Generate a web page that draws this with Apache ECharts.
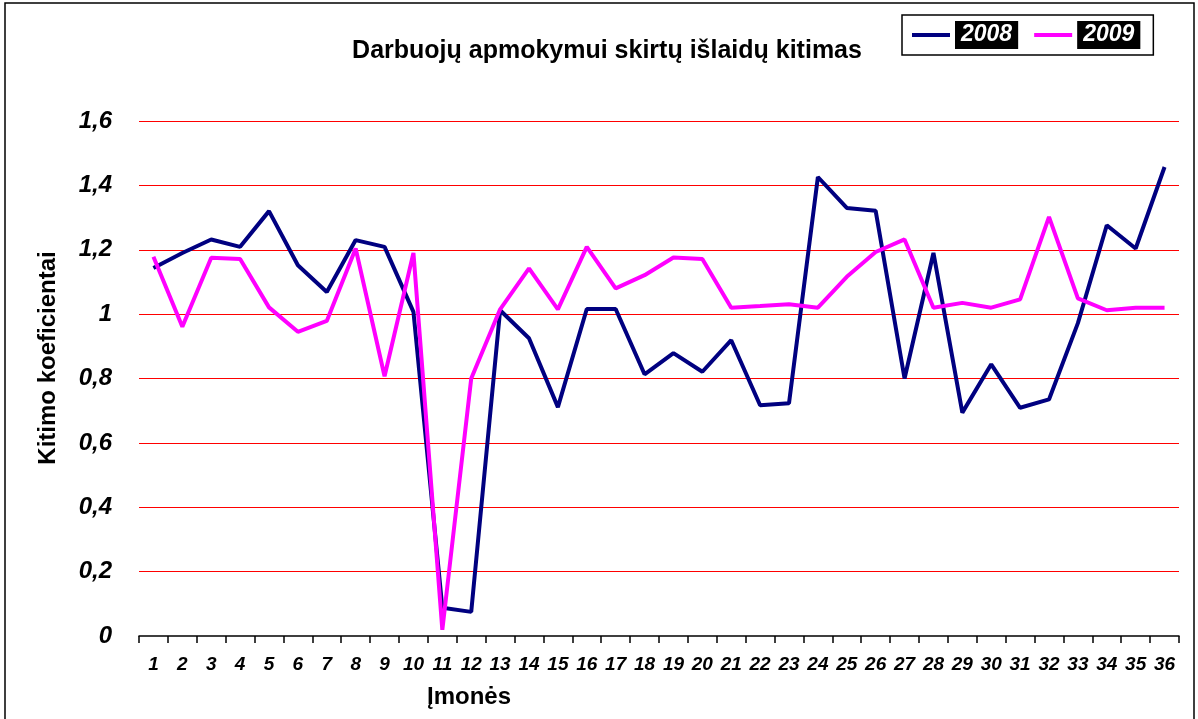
<!DOCTYPE html>
<html>
<head>
<meta charset="utf-8">
<script src="https://cdn.jsdelivr.net/npm/echarts@6/dist/echarts.min.js"></script>
<style>
  html, body { margin: 0; padding: 0; background: #fff; }
  #chart { width: 1198px; height: 719px; }
</style>
</head>
<body>
<div id="chart"></div>
<script>
const categories = ['1','2','3','4','5','6','7','8','9','10','11','12','13','14','15','16','17','18',
  '19','20','21','22','23','24','25','26','27','28','29','30','31','32','33','34','35','36']
const values2008 = [1.143, 1.19, 1.232, 1.209, 1.32, 1.152, 1.069, 1.23, 1.209, 1.007, 0.088, 0.075,
  1.012, 0.925, 0.711, 1.016, 1.016, 0.813, 0.879, 0.821, 0.919, 0.717, 0.723, 1.426,
  1.33, 1.321, 0.80, 1.19, 0.694, 0.844, 0.709, 0.735, 0.972, 1.276, 1.204, 1.457]
const values2009 = [1.178, 0.961, 1.175, 1.171, 1.021, 0.945, 0.979, 1.204, 0.807, 1.19, 0.019, 0.80,
  1.015, 1.142, 1.015, 1.209, 1.08, 1.121, 1.176, 1.171, 1.02, 1.025, 1.031, 1.02,
  1.116, 1.193, 1.232, 1.02, 1.035, 1.02, 1.046, 1.302, 1.049, 1.012, 1.02, 1.02]

const chart = echarts.init(document.getElementById('chart'))

const fontFamily = 'Liberation Sans, Arial, sans-serif'
const labelFont = { fontFamily, fontWeight: 'bold', fontStyle: 'italic', color: '#000' }

chart.setOption({
  animation: false,
  title: {
    text: 'Darbuojų apmokymui skirtų išlaidų kitimas',
    left: 602,
    top: 34,
    textAlign: 'center',
    textStyle: { fontFamily, fontWeight: 'bold', fontSize: 25, color: '#000' }
  },
  legend: {
    left: 902,
    top: 15,
    padding: [6, 13, 6, 10],
    itemGap: 16,
    itemWidth: 38,
    itemHeight: 4,
    icon: 'rect',
    borderColor: '#000',
    borderWidth: 1.5,
    data: ['2008', '2009'],
    textStyle: {
      ...labelFont,
      color: '#fff',
      fontSize: 23,
      backgroundColor: '#000',
      padding: [3, 6, 2, 6]
    }
  },
  graphic: [
    {
      type: 'rect',
      shape: { x: 5, y: 3, width: 1189, height: 720 },
      style: { fill: 'none', stroke: '#000', lineWidth: 1.5 },
      silent: true
    },
    {
      type: 'text',
      x: 469,
      y: 697,
      style: {
        text: 'Įmonės',
        font: 'bold 24px "Liberation Sans", Arial, sans-serif',
        fill: '#000',
        align: 'center',
        verticalAlign: 'middle'
      }
    },
    {
      type: 'text',
      x: 48,
      y: 358,
      rotation: Math.PI / 2,
      style: {
        text: 'Kitimo koeficientai',
        font: 'bold 24px "Liberation Sans", Arial, sans-serif',
        fill: '#000',
        align: 'center',
        verticalAlign: 'middle'
      }
    }
  ],
  grid: { left: 139, right: 19, top: 121, bottom: 83 },
  xAxis: {
    type: 'category',
    data: categories,
    boundaryGap: true,
    z: 5,
    axisLine: { lineStyle: { color: '#000', width: 1.5 } },
    axisTick: { show: true, length: 7, lineStyle: { color: '#000', width: 1.5 } },
    axisLabel: { ...labelFont, fontSize: 19, margin: 19, interval: 0 }
  },
  yAxis: {
    type: 'value',
    min: 0,
    max: 1.6,
    interval: 0.2,
    axisLine: { show: false },
    axisTick: { show: false },
    splitLine: { showMinLine: false, lineStyle: { color: '#ff0000', width: 1.2 } },
    axisLabel: {
      ...labelFont,
      fontSize: 24,
      margin: 27,
      formatter: v => String(Math.round(v * 10) / 10).replace('.', ',')
    }
  },
  series: [
    {
      name: '2008',
      type: 'line',
      data: values2008,
      symbol: 'none',
      lineStyle: { color: '#000080', width: 4 },
      itemStyle: { color: '#000080' }
    },
    {
      name: '2009',
      type: 'line',
      data: values2009,
      symbol: 'none',
      lineStyle: { color: '#ff00ff', width: 4 },
      itemStyle: { color: '#ff00ff' }
    }
  ]
})
</script>
</body>
</html>
